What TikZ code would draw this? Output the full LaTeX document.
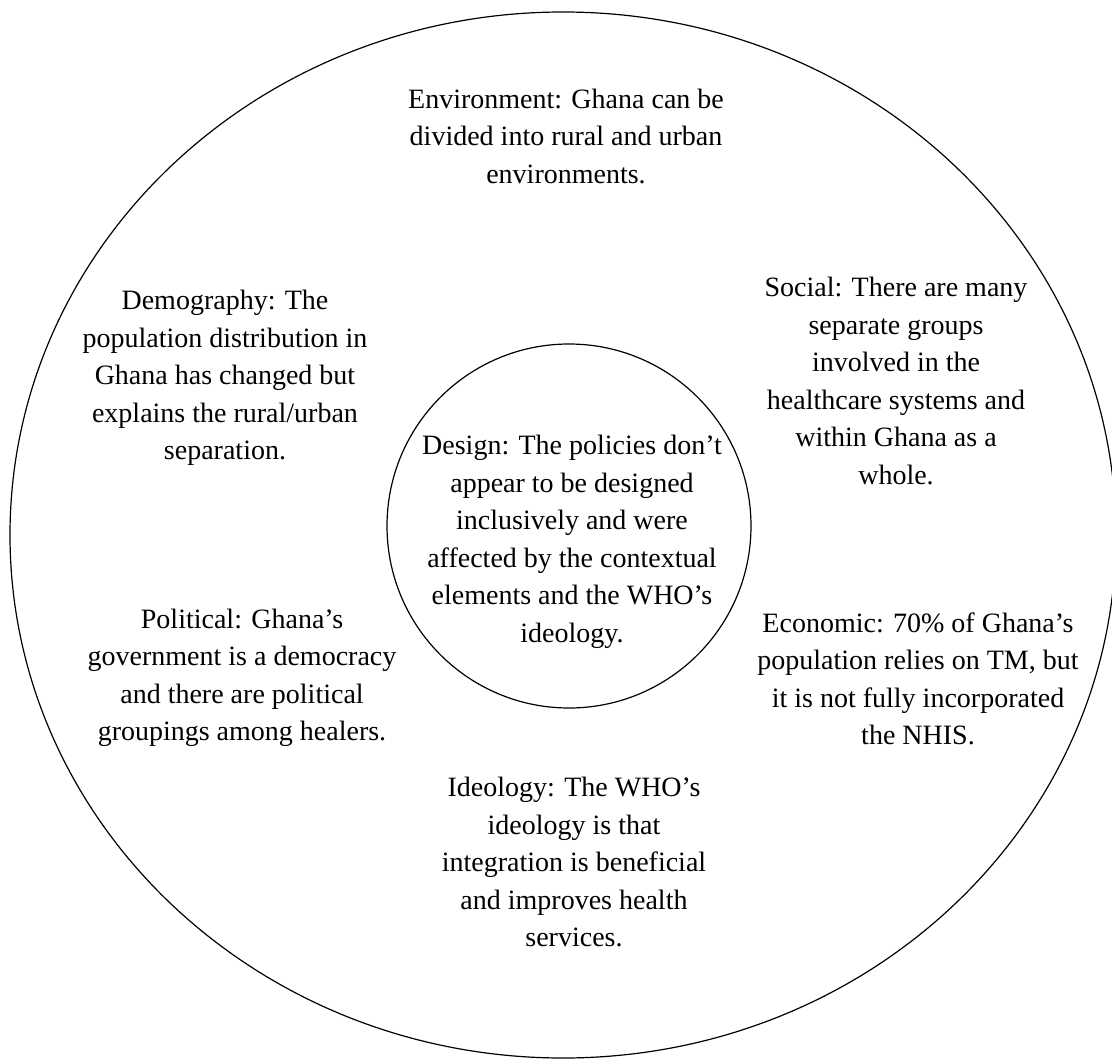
\documentclass[tikz,border=0pt]{standalone}
\usepackage{fontspec}
\setmainfont{Liberation Serif}
\usetikzlibrary{shapes.geometric}

\begin{document}
\begin{tikzpicture}[x=0.5pt,y=-0.5pt,semithick]
          \tikzstyle{factor}=[align=center,inner sep=0pt,font=\fontsize{14}{18.75}\selectfont]
          \path[use as bounding box,fill=white] (0,0) rectangle (1112,1059);

          % context ring and the policy design at its core
          \node[draw,ellipse,inner sep=0pt,minimum width=553pt,minimum height=523pt] (context) at (563,535) {};
          \node[draw,circle,inner sep=0pt,minimum size=182pt] (core) at (569,526) {};

          \node[factor] (design)      at (572,542) {Design: The policies don't\\appear to be designed\\inclusively and were\\affected by the contextual\\elements and the WHO's\\ideology.};
          \node[factor] (environment) at (566,136) {Environment: Ghana can be\\divided into rural and urban\\environments.};
          \node[factor] (demography)  at (225,378) {Demography: The\\population distribution in\\Ghana has changed but\\explains the rural/urban\\separation.};
          \node[factor] (social)      at (896,381) {Social: There are many\\separate groups\\involved in the\\healthcare systems and\\within Ghana as a\\whole.};
          \node[factor] (political)   at (242,678) {Political: Ghana's\\government is a democracy\\and there are political\\groupings among healers.};
          \node[factor] (economic)    at (918,679) {Economic: 70\% of Ghana's\\population relies on TM, but\\it is not fully incorporated\\the NHIS.};
          \node[factor] (ideology)    at (574,862) {Ideology: The WHO's\\ideology is that\\integration is beneficial\\and improves health\\services.};

\end{tikzpicture}
\end{document}
